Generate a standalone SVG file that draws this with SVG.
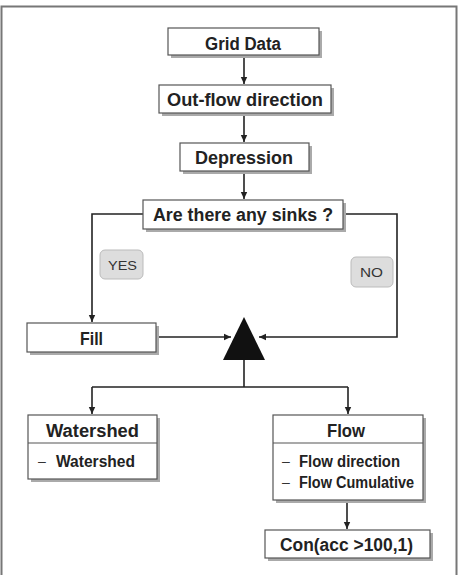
<svg xmlns="http://www.w3.org/2000/svg" width="458" height="575" viewBox="0 0 458 575">
<style>
.box{fill:#fff;stroke:#555;stroke-width:1.2}
.sh{fill:#aaa}
.t{font-family:"Liberation Sans",Arial,sans-serif;font-weight:bold;font-size:18px;fill:#222}
.s{font-family:"Liberation Sans",Arial,sans-serif;font-weight:bold;font-size:16px;fill:#222}
.d{font-family:"Liberation Sans",Arial,sans-serif;font-size:14px;fill:#333}
.lab{fill:#ddd;stroke:#bbb;stroke-width:1}
.lt{font-family:"Liberation Sans",Arial,sans-serif;font-size:13px;fill:#333}
.c{fill:none;stroke:#222;stroke-width:1.6}
</style>
<defs>
<marker id="ah" markerWidth="8" markerHeight="8" refX="7" refY="4" orient="auto" markerUnits="userSpaceOnUse">
<path d="M0,0.8 L7,4 L0,7.2 Z" fill="#222"/>
</marker>
</defs>
<rect x="1.5" y="6.5" width="455" height="570" fill="#fff" stroke="#777" stroke-width="2"/>
<g id="connectors">
<path class="c" d="M244,55 V84" marker-end="url(#ah)"/>
<path class="c" d="M244,113 V142" marker-end="url(#ah)"/>
<path class="c" d="M244,171 V199" marker-end="url(#ah)"/>
<path class="c" d="M143,214 H92 V322" marker-end="url(#ah)"/>
<path class="c" d="M343,214 H397 V337 H259" marker-end="url(#ah)"/>
<path class="c" d="M156,337 H231" marker-end="url(#ah)"/>
<path class="c" d="M244,360 V387"/>
<path class="c" d="M92,387 H348"/>
<path class="c" d="M92,387 V414" marker-end="url(#ah)"/>
<path class="c" d="M348,387 V414" marker-end="url(#ah)"/>
<path class="c" d="M347,500 V529" marker-end="url(#ah)"/>
</g>
<g id="grid-data">
<rect class="sh" x="171" y="31" width="151" height="27"/>
<rect class="box" x="168" y="28" width="151" height="27"/>
<text class="t" x="205" y="50" textLength="76" lengthAdjust="spacingAndGlyphs">Grid Data</text>
</g>
<g id="outflow">
<rect class="sh" x="162" y="88" width="172" height="28"/>
<rect class="box" x="159" y="85" width="172" height="28"/>
<text class="t" x="167" y="106" textLength="156" lengthAdjust="spacingAndGlyphs">Out-flow direction</text>
</g>
<g id="depression">
<rect class="sh" x="183" y="146" width="129" height="28"/>
<rect class="box" x="180" y="143" width="129" height="28"/>
<text class="t" x="195" y="164" textLength="98" lengthAdjust="spacingAndGlyphs">Depression</text>
</g>
<g id="sinks">
<rect class="sh" x="146" y="203" width="200" height="29"/>
<rect class="box" x="143" y="200" width="200" height="29"/>
<text class="t" x="153" y="221" textLength="180" lengthAdjust="spacingAndGlyphs">Are there any sinks ?</text>
</g>
<g id="yes">
<rect class="lab" x="100" y="250" width="43" height="29" rx="5"/>
<text class="lt" x="108" y="270" textLength="29" lengthAdjust="spacingAndGlyphs">YES</text>
</g>
<g id="no">
<rect class="lab" x="351" y="257" width="42" height="30" rx="5"/>
<text class="lt" x="360" y="277" textLength="23" lengthAdjust="spacingAndGlyphs">NO</text>
</g>
<g id="fill">
<rect class="sh" x="30" y="326" width="129" height="29"/>
<rect class="box" x="27" y="323" width="129" height="29"/>
<text class="t" x="80" y="345" textLength="23" lengthAdjust="spacingAndGlyphs">Fill</text>
</g>
<g id="merge">
<path d="M244,317 L265,360 L223,360 Z" fill="#111"/>
</g>
<g id="watershed">
<rect class="sh" x="31" y="418" width="129" height="64"/>
<rect class="box" x="28" y="415" width="129" height="64"/>
<line x1="28" y1="443" x2="157" y2="443" stroke="#555" stroke-width="1.2"/>
<text class="t" x="46" y="437" textLength="93" lengthAdjust="spacingAndGlyphs">Watershed</text>
<text class="d" x="38" y="466">–</text>
<text class="s" x="56" y="467" textLength="79" lengthAdjust="spacingAndGlyphs">Watershed</text>
</g>
<g id="flow">
<rect class="sh" x="276" y="418" width="150" height="85"/>
<rect class="box" x="273" y="415" width="150" height="85"/>
<line x1="273" y1="443" x2="423" y2="443" stroke="#555" stroke-width="1.2"/>
<text class="t" x="327" y="437" textLength="38" lengthAdjust="spacingAndGlyphs">Flow</text>
<text class="d" x="282" y="466">–</text>
<text class="s" x="299" y="467" textLength="101" lengthAdjust="spacingAndGlyphs">Flow direction</text>
<text class="d" x="282" y="487">–</text>
<text class="s" x="299" y="488" textLength="115" lengthAdjust="spacingAndGlyphs">Flow Cumulative</text>
</g>
<g id="con">
<rect class="sh" x="268" y="533" width="165" height="28"/>
<rect class="box" x="265" y="530" width="165" height="28"/>
<text class="t" x="280" y="551" textLength="133" lengthAdjust="spacingAndGlyphs">Con(acc &gt;100,1)</text>
</g>
</svg>
